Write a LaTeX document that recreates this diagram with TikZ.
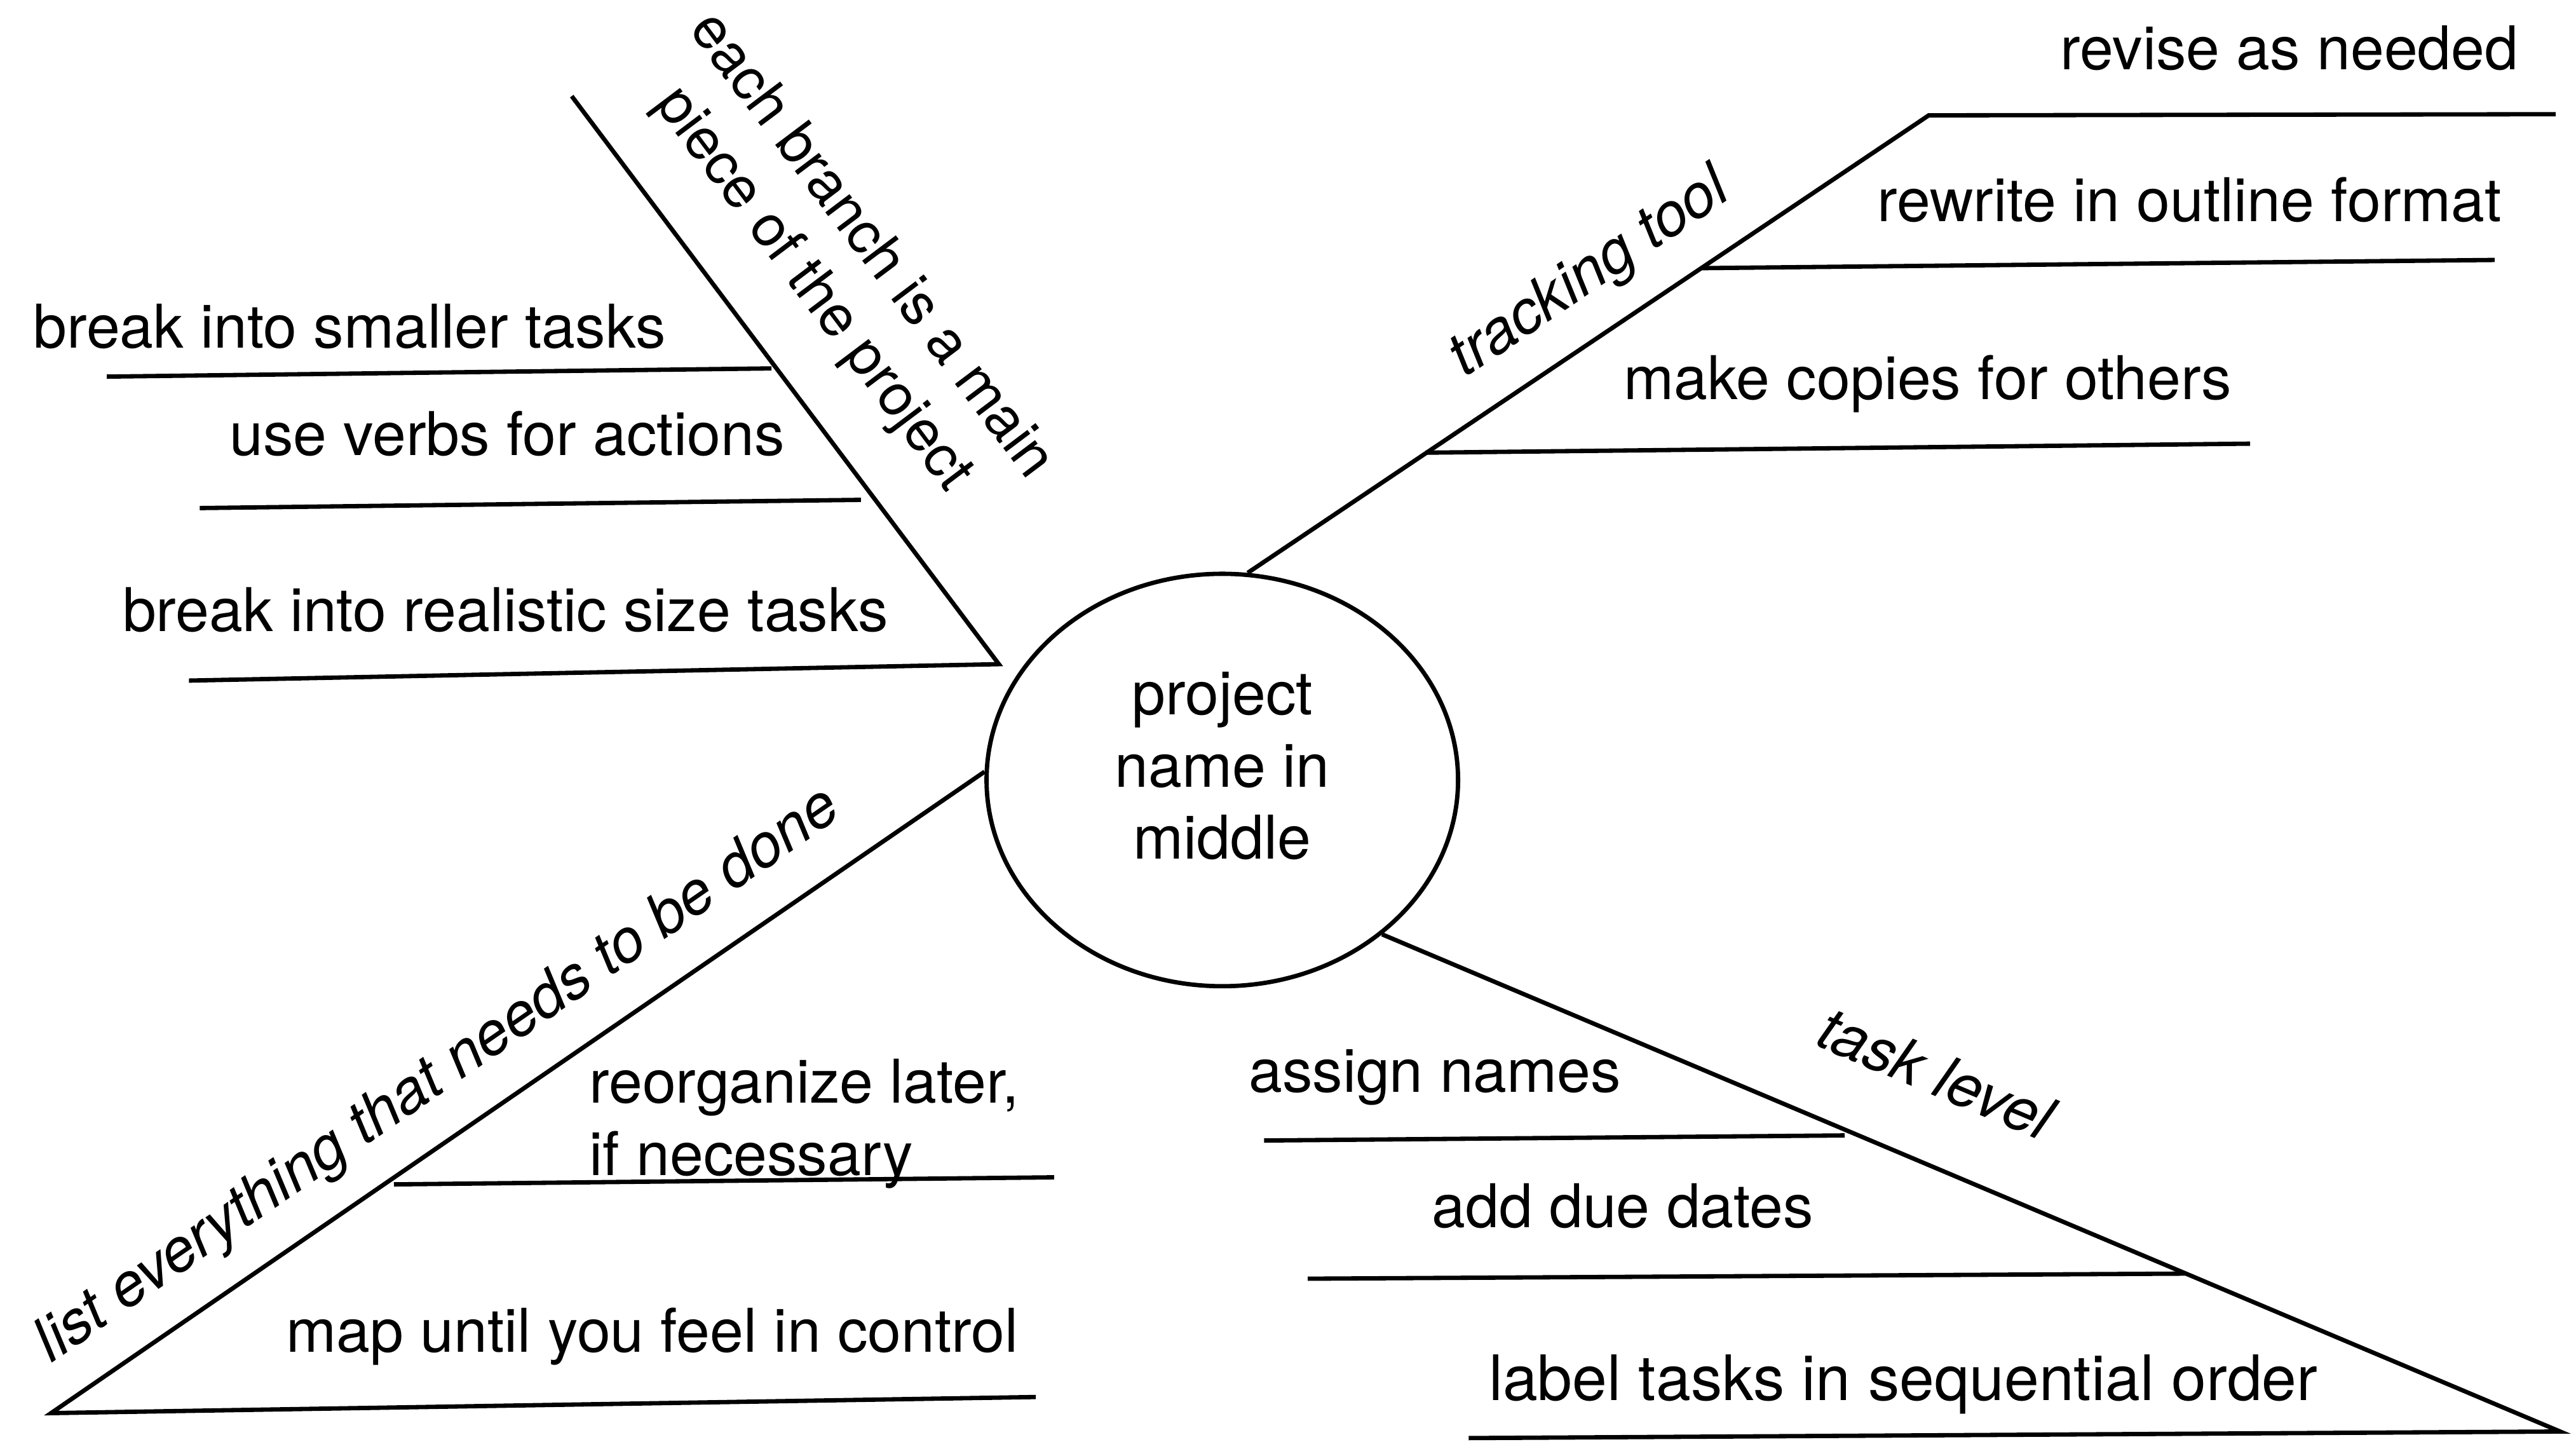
\documentclass[tikz,border=0pt]{standalone}
\usepackage{fontspec}
\setmainfont{TeX Gyre Heros}
\usetikzlibrary{shapes.geometric}

\begin{document}
\begin{tikzpicture}[line width=0.75pt,
        every node/.style={font=\fontsize{10.45}{12.5}\selectfont},
        task/.style={anchor=base west, inner sep=0pt},
        branch/.style={inner sep=0pt, font=\fontsize{10.45}{12.5}\selectfont\itshape}]
        \useasboundingbox (0,0) rectangle (15.68,8.772);

        \node[draw, ellipse, minimum width=2.87cm, minimum height=2.51cm, align=center, text depth=5pt] (hub) at (7.44,4.025) {project\\name in\\middle};

        \coordinate (ulTip) at (3.48,8.187);
        \coordinate (ulApex) at (6.08,4.73);
        \coordinate (ulA) at (0.65,6.48);
        \coordinate (ulB) at (4.696,6.53);
        \coordinate (ulC) at (1.216,5.68);
        \coordinate (ulD) at (5.24,5.73);
        \coordinate (ulE) at (1.15,4.63);
        \draw (ulTip) -- (ulApex) -- (ulE);
        \draw (ulA) -- (ulB);
        \draw (ulC) -- (ulD);
        \node[rotate=-53.05, align=center, inner sep=0pt, font=\fontsize{10}{12.5}\selectfont] (ulLabel) at (5.12,7.14) {each branch is a main\\piece of the project};
        \node[task] (ulText1) at (0.19,6.654) {break into smaller tasks};
        \node[task] (ulText2) at (1.384,6.002) {use verbs for actions};
        \node[task] (ulText3) at (0.734,4.93) {break into realistic size tasks};

        \coordinate (urTip) at (11.74,8.07);
        \coordinate (urA) at (15.556,8.077);
        \coordinate (urB) at (10.35,7.14);
        \coordinate (urC) at (15.185,7.19);
        \coordinate (urD) at (8.676,6.017);
        \coordinate (urE) at (13.696,6.072);
        \draw (hub.83) -- (urTip) -- (urA);
        \draw (urB) -- (urC);
        \draw (urD) -- (urE);
        \node[branch, rotate=34.1] (urLabel) at (9.68,7.10) {tracking tool};
        \node[task] (urText1) at (12.528,8.348) {revise as needed};
        \node[task] (urText2) at (11.414,7.426) {rewrite in outline format};
        \node[task] (urText3) at (9.87,6.34) {make copies for others};

        \coordinate (llTip) at (0.311,0.172);
        \coordinate (llA) at (6.305,0.27);
        \coordinate (llB) at (2.398,1.564);
        \coordinate (llC) at (6.416,1.607);
        \draw (hub.178) -- (llTip) -- (llA);
        \draw (llB) -- (llC);
        \node[branch, rotate=34.67] (llLabel) at (2.67,2.22) {list everything that needs to be done};
        \node[anchor=west, align=left, inner sep=0pt] (llText1) at (3.575,1.933) {reorganize later,\\if necessary};
        \node[task] (llText2) at (1.73,0.543) {map until you feel in control};

        \coordinate (lrTip) at (15.583,0.06);
        \coordinate (lrA) at (8.94,0.02);
        \coordinate (lrB) at (7.694,1.831);
        \coordinate (lrC) at (11.228,1.862);
        \coordinate (lrD) at (7.96,0.99);
        \coordinate (lrE) at (13.3,1.021);
        \draw (hub.-44) -- (lrTip) -- (lrA);
        \draw (lrB) -- (lrC);
        \draw (lrD) -- (lrE);
        \node[branch, rotate=-22.9] (lrLabel) at (11.784,2.242) {task level};
        \node[task] (lrText1) at (7.588,2.124) {assign names};
        \node[task] (lrText2) at (8.703,1.30) {add due dates};
        \node[task, font=\fontsize{10.85}{12.5}\selectfont] (lrText3) at (9.05,0.25) {label tasks in sequential order};
    \end{tikzpicture}
\end{document}
